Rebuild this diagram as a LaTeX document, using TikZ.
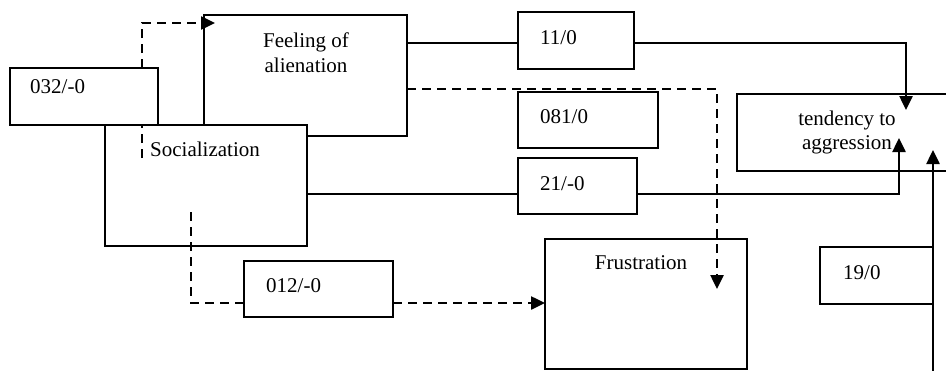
\documentclass[tikz,border=0pt]{standalone}
\usepackage{fontspec}
\setmainfont{Liberation Serif}
\usetikzlibrary{arrows.meta}
\begin{document}
\begin{tikzpicture}[x=1pt,y=-1pt,
 box/.style={draw,line width=1.8pt,fill=white,rectangle,inner sep=0pt,outer sep=0pt,anchor=north west},
 lab/.style={inner sep=0pt,anchor=base west,font=\fontsize{21}{25}\selectfont},
 labc/.style={inner sep=0pt,anchor=base,font=\fontsize{21}{25}\selectfont},
 conn/.style={line width=2.5pt},
 dconn/.style={line width=2.5pt,dash pattern=on 9pt off 6pt},
 tip/.style={-{Triangle[length=14pt,width=13pt]}}]
\useasboundingbox (0,0) rectangle (946,370);
\fill[white] (0,0) rectangle (946,370);
% boxes
\node[box,minimum width=203pt,minimum height=121pt] (feel) at (204,15) {};
\node[box,minimum width=202pt,minimum height=121pt] (soc) at (105,125) {};
\coordinate (s1) at (142,158);
\coordinate (f1) at (215,23);
\draw[dconn,tip] (s1) |- (f1);
\node[box,minimum width=148pt,minimum height=57pt] (b032) at (10,68) {};
\node[box,minimum width=116pt,minimum height=57pt] (e11) at (518,12) {};
\node[box,minimum width=140pt,minimum height=56pt] (e081) at (518,92) {};
\node[box,minimum width=119pt,minimum height=56pt] (e21) at (518,158) {};
\node[box,minimum width=240pt,minimum height=77pt] (tend) at (737,94) {};
\node[box,minimum width=202pt,minimum height=130pt] (frus) at (545,239) {};
\node[box,minimum width=149pt,minimum height=56pt] (e012) at (244,261) {};
\node[box,minimum width=113pt,minimum height=57pt] (e19) at (820,247) {};
% connector end points
\coordinate (t1) at (906,110);
\coordinate (t2) at (899,138);
\coordinate (t3) at (933,150);
\coordinate (b19) at (933,385);
\coordinate (fr1) at (717,289);
\coordinate (s2) at (191,212);
% connectors
\draw[conn] (feel.east |- 0,43) -- (e11.west |- 0,43);
\draw[conn,tip] (e11.east |- 0,43) -| (t1);
\draw[conn] (soc.east |- 0,194) -- (e21.west |- 0,194);
\draw[conn,tip] (e21.east |- 0,194) -| (t2);
\draw[dconn,tip] (feel.east |- 0,89) -| (fr1);
\draw[dconn] (s2) |- (e012.west |- 0,303);
\draw[dconn,tip] (e012.east |- 0,303) -- (frus.west |- 0,303);
\draw[conn,tip] (b19) -- (t3);
% texts
\node[lab] (l032) at (30,93) {032/-0};
\node[lab] (lsoc) at (150,156) {Socialization};
\node[labc] (lfeel1) at (306,47) {Feeling of};
\node[labc] (lfeel2) at (306,72) {alienation};
\node[lab] (l11) at (540,44) {11/0};
\node[lab] (l081) at (540,123) {081/0};
\node[lab] (l21) at (540,190) {21/-0};
\node[labc] (ltend1) at (847,125) {tendency to};
\node[labc] (ltend2) at (847,149) {aggression};
\node[labc] (lfrus) at (641,269) {Frustration};
\node[lab] (l012) at (266,292) {012/-0};
\node[lab] (l19) at (843,279) {19/0};
\end{tikzpicture}
\end{document}
